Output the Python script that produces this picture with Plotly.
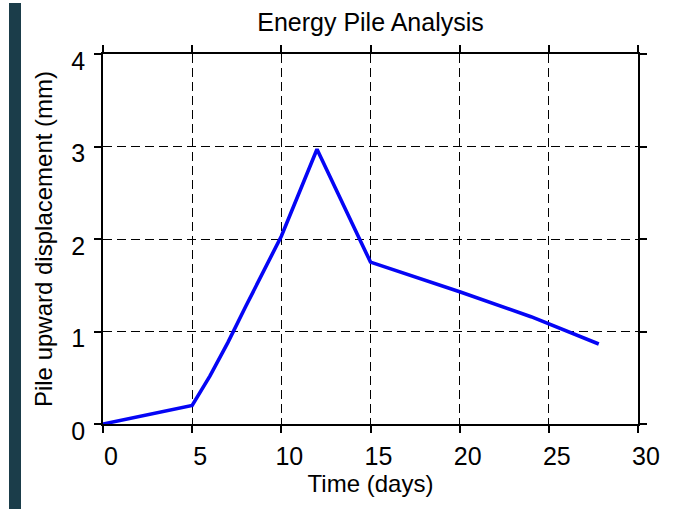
import plotly.graph_objects as go

# Data
days = [0, 5, 6, 7, 8, 9, 10, 11, 12, 15, 20, 24, 27.8]
displacement = [0.0, 0.2, 0.52, 0.88, 1.27, 1.65, 2.03, 2.5, 2.97, 1.75, 1.43, 1.16, 0.865]
x_ticks = [0, 5, 10, 15, 20, 25, 30]
y_ticks = [0, 1, 2, 3, 4]

W, H = 677, 509
ML, MR, MT, MB = 103, 39, 54, 85
PW, PH = W - ML - MR, H - MT - MB

FONT = "Arial, Liberation Sans, Helvetica, sans-serif"

fig = go.Figure()
fig.add_trace(go.Scatter(
    x=days, y=displacement, mode="lines",
    line=dict(color="#0505f5", width=3.6),
    showlegend=False, hoverinfo="skip",
))

axis_common = dict(
    showline=True, linecolor="black", linewidth=1.5, mirror="ticks",
    ticks="outside", ticklen=7, tickwidth=1.5, tickcolor="black",
    showgrid=True, gridcolor="black", gridwidth=1, griddash="9px,5px",
    zeroline=False,
    tickfont=dict(family=FONT, size=25, color="black"),
)

fig.update_xaxes(
    range=[0, 30], tickvals=x_ticks, ticktext=[str(v) for v in x_ticks],
    title=dict(text="Time (days)", font=dict(family=FONT, size=24, color="black"), standoff=6),
    ticklabelshift=8, ticklabelstandoff=2,
    **axis_common,
)
fig.update_yaxes(
    range=[0, 4], tickvals=y_ticks, ticktext=[str(v) for v in y_ticks],
    title=dict(text="Pile upward displacement (mm)", font=dict(family=FONT, size=24, color="black"), standoff=12),
    ticklabelshift=7, ticklabelstandoff=4,
    **axis_common,
)

# dark vertical bar at the left edge of the image
fig.add_shape(
    type="rect", xref="paper", yref="paper", layer="above",
    x0=(9 - ML) / PW, x1=(21 - ML) / PW,
    y0=(H - MB - 509) / PH, y1=(H - MB - 3) / PH,
    fillcolor="#1b3d4a", line=dict(width=0),
)

fig.update_layout(
    width=W, height=H,
    margin=dict(l=ML, r=MR, t=MT, b=MB),
    paper_bgcolor="white", plot_bgcolor="white",
    title=dict(text="Energy Pile Analysis", x=(ML + PW / 2) / W, xanchor="center",
               y=1 - 22 / H, yanchor="middle", yref="container",
               font=dict(family=FONT, size=25, color="black")),
)

fig.write_html("out.html")
